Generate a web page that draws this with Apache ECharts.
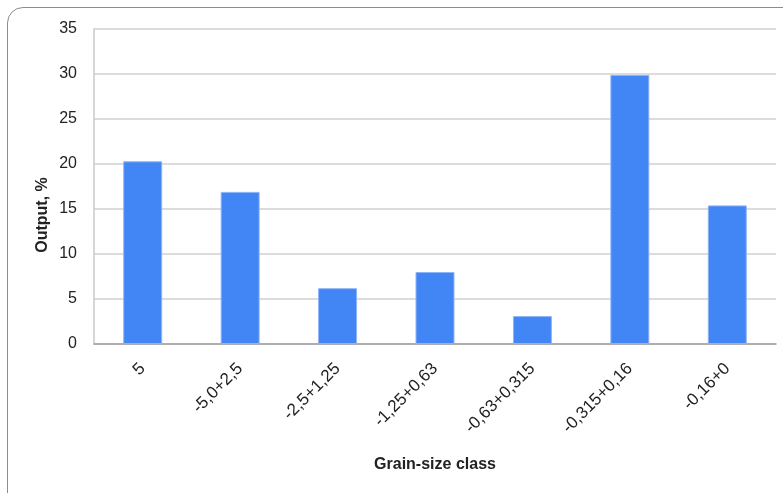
<!DOCTYPE html>
<html>
<head>
<meta charset="utf-8">
<script src="https://cdn.jsdelivr.net/npm/echarts@6/dist/echarts.min.js"></script>
<style>
  html, body { margin: 0; padding: 0; background: #fff; }
  #frame {
    position: absolute; left: 7px; top: 7px; width: 820px; height: 540px;
    border: 1.5px solid #8c8c8c; border-radius: 16px; box-sizing: border-box;
  }
  #chart { position: absolute; left: 0; top: 0; width: 783px; height: 493px; }
</style>
</head>
<body>
<div id="frame"></div>
<div id="chart"></div>
<script>
// Grain-size classes and their output share
const categories = ['5', '-5,0+2,5', '-2,5+1,25', '-1,25+0,63', '-0,63+0,315', '-0,315+0,16', '-0,16+0'];
const outputPct = [20.3, 16.9, 6.2, 8.0, 3.1, 29.9, 15.4];
const yTicks = { min: 0, max: 35, interval: 5 };

const chart = echarts.init(document.getElementById('chart'), null, { renderer: 'canvas' });
const font = '"Liberation Sans", Arial, sans-serif';

chart.setOption({
  animation: false,
  grid: { left: 94, right: 7, top: 29, bottom: 149 },
  graphic: [{
    type: 'text',
    x: 43, y: 215,
    rotation: Math.PI / 2,
    style: {
      text: 'Output, %',
      fontFamily: font, fontSize: 16, fontWeight: 'bold', fill: '#222',
      align: 'center', verticalAlign: 'middle'
    }
  }],
  xAxis: {
    type: 'category',
    data: categories,
    name: 'Grain-size class',
    nameLocation: 'middle',
    nameGap: 113,
    nameTextStyle: { fontFamily: font, fontSize: 16, fontWeight: 'bold', color: '#222' },
    axisLine: { lineStyle: { color: '#9e9e9e', width: 1.5 } },
    axisTick: { show: false },
    axisLabel: { rotate: 45, margin: 22, fontFamily: font, fontSize: 17, color: '#222', interval: 0 }
  },
  yAxis: {
    type: 'value',
    min: yTicks.min, max: yTicks.max, interval: yTicks.interval,
    axisLine: { show: true, lineStyle: { color: '#c8c8c8', width: 1.5 } },
    axisTick: { show: false },
    axisLabel: { margin: 17, fontFamily: font, fontSize: 16, color: '#222' },
    splitLine: { lineStyle: { color: '#d0d0d0', width: 1.5 } }
  },
  series: [{
    type: 'bar',
    data: outputPct,
    barWidth: '40%',
    itemStyle: { color: '#4285f4', borderColor: '#8fb4f8', borderWidth: 1 }
  }]
});
</script>
</body>
</html>
